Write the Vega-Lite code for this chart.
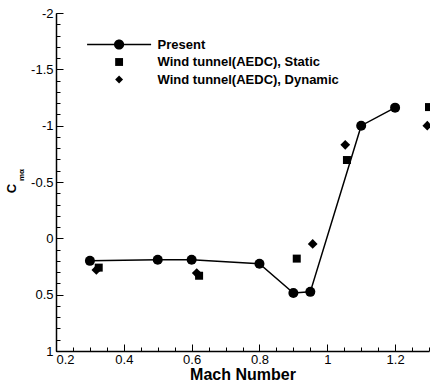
{
  "$schema": "https://vega.github.io/schema/vega-lite/v6.json",
  "autosize": "none",
  "width": 373,
  "height": 338,
  "padding": {"left": 56, "top": 13, "right": 1, "bottom": 35},
  "background": "white",
  "config": {
    "view": {"stroke": null},
    "font": "Liberation Sans",
    "axis": {"grid": false, "domainColor": "black", "tickColor": "black", "labelColor": "black", "titleColor": "black", "labelFont": "Liberation Sans", "titleFont": "Liberation Sans"}
  },
  "data": {
    "values": [
      {"series": "Present", "mach": 0.3, "cma": 0.2},
      {"series": "Present", "mach": 0.5, "cma": 0.19},
      {"series": "Present", "mach": 0.6, "cma": 0.19},
      {"series": "Present", "mach": 0.8, "cma": 0.225},
      {"series": "Present", "mach": 0.9, "cma": 0.485},
      {"series": "Present", "mach": 0.95, "cma": 0.475},
      {"series": "Present", "mach": 1.1, "cma": -1.0},
      {"series": "Present", "mach": 1.2, "cma": -1.16},
      {"series": "Wind tunnel(AEDC), Static", "mach": 0.326, "cma": 0.26},
      {"series": "Wind tunnel(AEDC), Static", "mach": 0.622, "cma": 0.332},
      {"series": "Wind tunnel(AEDC), Static", "mach": 0.91, "cma": 0.18},
      {"series": "Wind tunnel(AEDC), Static", "mach": 1.058, "cma": -0.695},
      {"series": "Wind tunnel(AEDC), Static", "mach": 1.3, "cma": -1.165},
      {"series": "Wind tunnel(AEDC), Dynamic", "mach": 0.319, "cma": 0.281},
      {"series": "Wind tunnel(AEDC), Dynamic", "mach": 0.615, "cma": 0.308},
      {"series": "Wind tunnel(AEDC), Dynamic", "mach": 0.957, "cma": 0.05},
      {"series": "Wind tunnel(AEDC), Dynamic", "mach": 1.053, "cma": -0.83},
      {"series": "Wind tunnel(AEDC), Dynamic", "mach": 1.295, "cma": -1.0}
    ]
  },
  "layer": [
    {
      "transform": [{"filter": "datum.series === 'Present'"}],
      "mark": {"type": "line", "color": "black", "strokeWidth": 1.5},
      "encoding": {
        "x": {
          "field": "mach", "type": "quantitative",
          "scale": {"domain": [0.2, 1.3], "nice": false, "zero": false},
          "axis": {
            "orient": "bottom", "values": [0.2, 0.4, 0.6, 0.8, 1, 1.2],
            "labelExpr": "'' + datum.value", "tickSize": -7, "tickWidth": 1,
            "domainWidth": 1.5, "labelFontSize": 13, "labelPadding": 9, "labelFlush": true,
            "title": "Mach Number", "titleFontSize": 16, "titleFontWeight": "bold", "titlePadding": 0
          }
        },
        "y": {
          "field": "cma", "type": "quantitative",
          "scale": {"domain": [-2, 1], "reverse": true, "nice": false, "zero": false},
          "axis": {
            "orient": "left", "values": [-2, -1.5, -1, -0.5, 0, 0.5, 1],
            "labelExpr": "'' + datum.value", "tickSize": -7, "tickWidth": 1,
            "domainWidth": 1.5, "labelFontSize": 13, "labelPadding": 10, "labelFlush": false,
            "title": "C", "titleFontSize": 13, "titleFontWeight": "bold",
            "titleAngle": -90, "titleBaseline": "alphabetic", "titleX": -41, "titleY": 175
          }
        }
      }
    },
    {
      "transform": [{"filter": "datum.series === 'Present'"}],
      "mark": {"type": "point", "shape": "circle", "filled": true, "color": "black", "opacity": 1, "size": 100},
      "encoding": {
        "x": {"field": "mach", "type": "quantitative", "scale": {"domain": [0.2, 1.3], "nice": false, "zero": false}, "axis": null},
        "y": {"field": "cma", "type": "quantitative", "scale": {"domain": [-2, 1], "reverse": true, "nice": false, "zero": false}, "axis": null}
      }
    },
    {
      "transform": [{"filter": "datum.series === 'Wind tunnel(AEDC), Static'"}],
      "mark": {"type": "point", "filled": true, "color": "black", "opacity": 1, "size": 64},
      "encoding": {
        "x": {
          "field": "mach", "type": "quantitative",
          "scale": {"domain": [0.2, 1.3], "nice": false, "zero": false},
          "axis": {
            "orient": "bottom",
            "values": [0.2, 0.25, 0.3, 0.35, 0.4, 0.45, 0.5, 0.55, 0.6, 0.65, 0.7, 0.75, 0.8, 0.85, 0.9, 0.95, 1, 1.05, 1.1, 1.15, 1.2, 1.25, 1.3],
            "tickSize": -4, "tickWidth": 1, "labels": false, "domain": false, "title": null
          }
        },
        "y": {
          "field": "cma", "type": "quantitative",
          "scale": {"domain": [-2, 1], "reverse": true, "nice": false, "zero": false},
          "axis": {
            "orient": "left",
            "values": [-2, -1.9, -1.8, -1.7, -1.6, -1.5, -1.4, -1.3, -1.2, -1.1, -1, -0.9, -0.8, -0.7, -0.6, -0.5, -0.4, -0.3, -0.2, -0.1, 0, 0.1, 0.2, 0.3, 0.4, 0.5, 0.6, 0.7, 0.8, 0.9, 1],
            "tickSize": -4, "tickWidth": 1, "labels": false, "domain": false,
            "title": "mα", "titleFontSize": 8, "titleFontWeight": "bold",
            "titleAngle": -90, "titleBaseline": "alphabetic", "titleX": -33, "titleY": 161.5
          }
        },
        "shape": {
          "field": "series", "type": "nominal",
          "scale": {
            "domain": ["Present", "Wind tunnel(AEDC), Static", "Wind tunnel(AEDC), Dynamic"],
            "range": ["M-8.13,-0.19H8.13V0.19H-8.13Z M1.29,0A1.29,1.29,0,1,1,-1.29,0A1.29,1.29,0,1,1,1.29,0Z", "square", "diamond"]
          },
          "legend": {
            "title": null, "orient": "none", "legendX": 56.6, "legendY": 25,
            "labelFont": "Liberation Sans", "labelFontSize": 13, "labelFontWeight": "bold",
            "labelColor": "black", "labelOffset": 32, "labelLimit": 300, "symbolSize": 62,
            "rowPadding": 3.5, "padding": 0, "symbolStrokeWidth": 0
          }
        }
      }
    },
    {
      "transform": [{"filter": "datum.series === 'Wind tunnel(AEDC), Dynamic'"}],
      "mark": {"type": "point", "filled": true, "color": "black", "opacity": 1, "size": 95},
      "encoding": {
        "x": {"field": "mach", "type": "quantitative", "scale": {"domain": [0.2, 1.3], "nice": false, "zero": false}, "axis": null},
        "y": {"field": "cma", "type": "quantitative", "scale": {"domain": [-2, 1], "reverse": true, "nice": false, "zero": false}, "axis": null},
        "shape": {
          "field": "series", "type": "nominal",
          "scale": {
            "domain": ["Present", "Wind tunnel(AEDC), Static", "Wind tunnel(AEDC), Dynamic"],
            "range": ["M-8.13,-0.19H8.13V0.19H-8.13Z M1.29,0A1.29,1.29,0,1,1,-1.29,0A1.29,1.29,0,1,1,1.29,0Z", "square", "diamond"]
          }
        }
      }
    }
  ],
  "resolve": {"axis": {"x": "independent", "y": "independent"}}
}
